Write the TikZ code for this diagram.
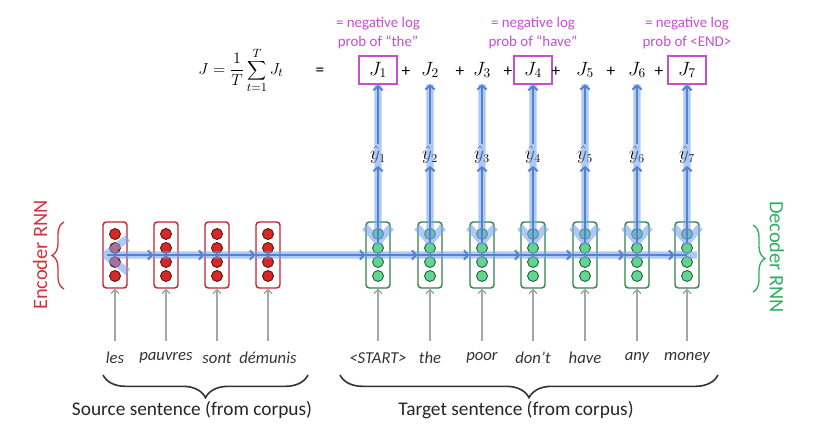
\documentclass[tikz,border=0pt]{standalone}
\usepackage{fontspec}
\setmainfont{Carlito}
\usetikzlibrary{arrows.meta,decorations.pathreplacing}
\definecolor{encred}{RGB}{190,35,50}
\definecolor{encfill}{RGB}{215,40,40}
\definecolor{decgreen}{RGB}{50,130,75}
\definecolor{decfill}{RGB}{95,215,145}
\definecolor{bandblue}{RGB}{120,165,235}
\definecolor{fwdblue}{RGB}{85,130,205}
\definecolor{jpink}{RGB}{195,80,205}
\definecolor{labred}{RGB}{210,50,60}
\definecolor{labgreen}{RGB}{45,175,95}
\tikzset{
 cellbase/.style={rectangle, rounded corners=2.5pt, minimum width=18pt, minimum height=49.5pt, line width=1.1pt, fill=white, inner sep=0pt},
 enccell/.style={cellbase, draw=encred},
 deccell/.style={cellbase, draw=decgreen},
 dotbase/.style={circle, minimum size=8.2pt, inner sep=0pt, line width=0.7pt},
 edot/.style={dotbase, fill=encfill, draw=black!55!encfill},
 ddot/.style={dotbase, fill=decfill, draw=black!55!decfill},
 word/.style={font=\fontsize{12.5}{14}\selectfont\itshape, text=black!80, inner sep=1pt},
 inarrow/.style={draw=black!35, line width=1pt, -{Straight Barb[length=3pt,width=6pt]}},
 gradband/.style={draw=bandblue, line width=5.5pt, draw opacity=0.6, line join=round},
 fwd/.style={draw=fwdblue, line width=1.5pt, -{Straight Barb[length=3pt,width=7pt]}},
 jnode/.style={minimum width=29pt, minimum height=21pt, inner sep=0pt, font=\fontsize{14}{16}\selectfont},
 jbox/.style={jnode, draw=jpink, line width=1.4pt},
 yhat/.style={minimum height=16pt, inner sep=0pt, font=\fontsize{13.5}{15}\selectfont},
 note/.style={text=jpink, font=\fontsize{11.2}{14.2}\selectfont, align=center},
 plus/.style={font=\fontsize{13}{15}\selectfont},
 sidelab/.style={font=\fontsize{15.3}{17}\selectfont},
 botlab/.style={font=\fontsize{14.5}{17}\selectfont, text=black!85},
 brc/.style={decorate, decoration={brace, amplitude=#1}},
}
\begin{document}
\begin{tikzpicture}[x=0.75pt,y=-0.75pt]
\useasboundingbox (0,0) rectangle (817,438);
% encoder cells
\foreach \n/\x in {1/115,2/166,3/217,4/268}{
  \node[enccell] (e\n) at (\x,255) {};
  \foreach \k/\yy in {1/234,2/248,3/262,4/276}
    \node[edot] (e\n-\k) at (\x,\yy) {};
}
% decoder cells
\foreach \n/\x in {1/378,2/430,3/482,4/533,5/585,6/637,7/687}{
  \node[deccell] (d\n) at (\x,255) {};
  \foreach \k/\yy in {1/234,2/248,3/262,4/276}
    \node[ddot] (d\n-\k) at (\x,\yy) {};
  \node[yhat] (y\n) at (\x,155) {$\hat{y}_{\n}$};
  \coordinate (vt\n) at (\x,242);
  \coordinate (vl\n) at (\x-13,227);
  \coordinate (vr\n) at (\x+13,227);
}
% J nodes
\node[jbox] (J1) at (378,70) {$J_1$};
\node[jnode] (J2) at (430,70) {$J_2$};
\node[jnode] (J3) at (482,70) {$J_3$};
\node[jbox] (J4) at (533,70) {$J_4$};
\node[jnode] (J5) at (585,70) {$J_5$};
\node[jnode] (J6) at (637,70) {$J_6$};
\node[jbox] (J7) at (687,70) {$J_7$};
\foreach \n/\x in {1/406,2/460,3/508,4/556,5/611,6/659}
  \node[plus] (p\n) at (\x,72) {+};
\node[font=\fontsize{12.8}{15}\selectfont] (form) at (241,70) {$\displaystyle J=\frac{1}{T}\sum_{t=1}^{T}J_t$};
\node[plus] (eq) at (320,72) {=};
% notes
\node[note] (n1) at (378,33) {= negative log\\prob of “the”};
\node[note] (n4) at (533,33) {= negative log\\prob of “have”};
\node[note] (n7) at (687,33) {= negative log\\prob of <END>};
% words
\foreach \n/\x/\w in {1/115/les,2/166/pauvres,3/217/sont,4/268/démunis}{
  \node[word] (we\n) at (\x,358) {\w};
  \draw[inarrow] (\x,341) -- (e\n.south);
}
\foreach \n/\x/\w in {1/378/<START>,2/430/the,3/482/poor,4/533/don’t,5/585/have,6/637/any,7/687/money}{
  \node[word] (wd\n) at (\x,358) {\w};
  \draw[inarrow] (\x,341) -- (d\n.south);
}
% gradient band
\coordinate (hr) at (697,255);
\coordinate (ht) at (105,255);
\coordinate (hu) at (128,238);
\coordinate (hd) at (128,272);
\draw[gradband] (hr) -- (ht) (hu) -- (ht) -- (hd)
  foreach \i in {1,...,7}{ (J\i.south) -- (vt\i) (vl\i) -- (vt\i) -- (vr\i) };
% forward arrows
\coordinate (hs) at (107,255);
\draw[fwd] (hs) -- (e2.west);
\draw[fwd] (e2.west) -- (e3.west);
\draw[fwd] (e3.west) -- (e4.west);
\draw[fwd] (e4.west) -- (d1.west);
\draw[fwd] (d1.west) -- (d2.west);
\draw[fwd] (d2.west) -- (d3.west);
\draw[fwd] (d3.west) -- (d4.west);
\draw[fwd] (d4.west) -- (d5.west);
\draw[fwd] (d5.west) -- (d6.west);
\draw[fwd] (d6.west) -- (d7.west);
\draw[fwdblue, line width=1.5pt] (d7.west) -- (d7.center);
\foreach \i in {1,...,7}{
  \draw[fwd] (vt\i) -- (y\i.south);
  \draw[fwd] (y\i.north) -- (J\i.south);
}
% side labels
\node[sidelab, text=labred, rotate=90] (encl) at (40,255) {Encoder RNN};
\node[sidelab, text=labgreen, rotate=-90] (decl) at (777,257) {Decoder RNN};
\coordinate (eb1) at (64,289);
\coordinate (eb2) at (64,222);
\draw[brc=9pt, draw=labred, line width=1pt] (eb1) -- (eb2);
\coordinate (db1) at (753,225);
\coordinate (db2) at (753,292);
\draw[brc=9pt, draw=labgreen, line width=1pt] (db1) -- (db2);
% bottom braces
\coordinate (sb1) at (308,375);
\coordinate (sb2) at (103,375);
\draw[brc=17pt, draw=black!80, line width=1.2pt] (sb1) -- (sb2);
\coordinate (tb1) at (718,375);
\coordinate (tb2) at (340,375);
\draw[brc=17pt, draw=black!80, line width=1.2pt] (tb1) -- (tb2);
\node[botlab] (src) at (192,410) {Source sentence (from corpus)};
\node[botlab] (tgt) at (516,410) {Target sentence (from corpus)};
\end{tikzpicture}
\end{document}
